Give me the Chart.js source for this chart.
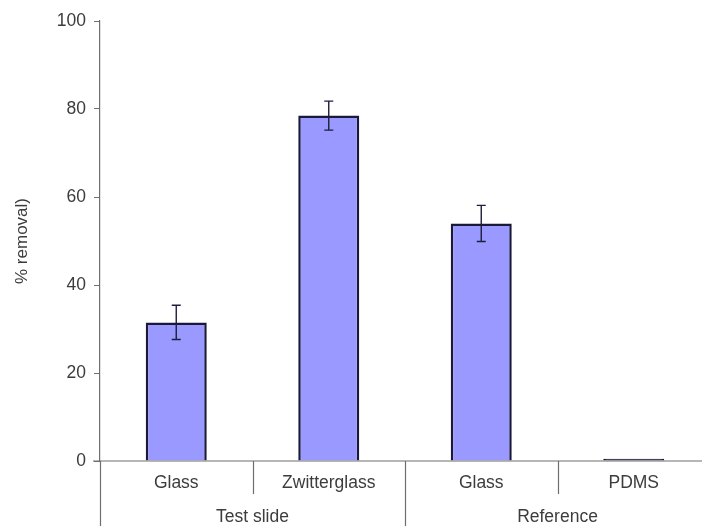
<!DOCTYPE html>
<html>
<head>
<meta charset="utf-8">
<title>% removal</title>
<script src="https://cdn.jsdelivr.net/npm/chart.js@4/dist/chart.umd.min.js"></script>
<style>
  html, body { margin: 0; padding: 0; background: #fff; overflow: hidden; }
  #wrap { width: 710px; height: 526px; }
</style>
</head>
<body>
<div id="wrap"><canvas id="myChart"></canvas></div>

<script>
// data
const categories = ['Glass', 'Zwitterglass', 'Glass', 'PDMS'];
const removal = [31.5, 78.5, 54.0, 0.5];
const removalErr = [3.9, 3.3, 4.1, 0];
// groups: label and how many categories each one spans
const groupLabels = ['Test slide', 'Reference'];
const groupSizes = [2, 2];
const yTicks = [0, 20, 40, 60, 80, 100];

const AXIS_COLOR = '#6e6e6e';
const TEXT_COLOR = '#3c3c3c';
const BAR_FILL = '#9999ff';
const BAR_EDGE = '#1a1a38';
const FONT = '"Liberation Sans", Arial, sans-serif';

// error bars on top of each bar
const errorBarPlugin = {
  id: 'errorBars',
  afterDatasetsDraw(chart) {
    const ctx = chart.ctx;
    const y = chart.scales.y;
    const meta = chart.getDatasetMeta(0);
    ctx.save();
    ctx.strokeStyle = '#1e1e3c';
    ctx.lineWidth = 1.4;
    meta.data.forEach((bar, i) => {
      const e = removalErr[i];
      if (!e) return;
      const hi = y.getPixelForValue(removal[i] + e);
      const lo = y.getPixelForValue(removal[i] - e);
      const x = bar.x;
      ctx.beginPath();
      ctx.moveTo(x, hi); ctx.lineTo(x, lo);
      ctx.moveTo(x - 4.5, hi); ctx.lineTo(x + 4.5, hi);
      ctx.moveTo(x - 4.5, lo); ctx.lineTo(x + 4.5, lo);
      ctx.stroke();
    });
    ctx.restore();
  }
};

// x axis line, category separators and group labels
const groupAxisPlugin = {
  id: 'groupAxis',
  afterDraw(chart) {
    const ctx = chart.ctx;
    const xs = chart.scales.x;
    const area = chart.chartArea;
    const base = area.bottom;
    const step = xs.getPixelForTick(1) - xs.getPixelForTick(0);
    const edge = i => xs.getPixelForTick(0) - step / 2 + i * step;

    ctx.save();
    ctx.strokeStyle = AXIS_COLOR;
    ctx.lineWidth = 1.2;
    ctx.beginPath();
    ctx.moveTo(area.left - 7, base);
    ctx.lineTo(chart.width, base);

    // short separators inside a group, long ones between groups
    let idx = 0;
    const groupEdges = [0];
    groupSizes.forEach(n => { idx += n; groupEdges.push(idx); });
    for (let i = 0; i <= categories.length; i++) {
      const px = Math.round(edge(i)) + 0.5;
      const long = groupEdges.includes(i);
      ctx.moveTo(px, base);
      ctx.lineTo(px, long ? chart.height : base + 33);
    }
    ctx.stroke();

    ctx.fillStyle = TEXT_COLOR;
    ctx.font = '17.5px ' + FONT;
    ctx.textAlign = 'center';
    ctx.textBaseline = 'middle';
    let start = 0;
    groupLabels.forEach((label, g) => {
      const mid = (edge(start) + edge(start + groupSizes[g])) / 2;
      ctx.fillText(label, mid, base + 56);
      start += groupSizes[g];
    });
    ctx.restore();
  }
};

const config = {
  type: 'bar',
  data: {
    labels: categories,
    datasets: [{
      data: removal,
      // a near-zero bar is all outline, so fill it with the edge colour
      backgroundColor: c => (removal[c.dataIndex] < 1 ? BAR_EDGE : BAR_FILL),
      borderColor: BAR_EDGE,
      borderWidth: 2.5,
      borderSkipped: 'bottom',
      barPercentage: 0.4,
      categoryPercentage: 1.0
    }]
  },
  options: {
    responsive: true,
    maintainAspectRatio: false,
    animation: false,
    layout: { padding: { top: 21, right: 0, left: 0, bottom: 0 } },
    plugins: {
      legend: { display: false },
      tooltip: { enabled: false }
    },
    scales: {
      x: {
        offset: true,
        border: { display: false },
        grid: { display: false, drawTicks: false },
        ticks: {
          color: TEXT_COLOR,
          font: { family: FONT, size: 17.5 },
          padding: 12
        },
        afterFit(s) { s.height = 65; }
      },
      y: {
        min: 0,
        max: 100,
        afterBuildTicks(s) { s.ticks = yTicks.map(v => ({ value: v })); },
        border: { display: true, color: AXIS_COLOR, width: 1.2 },
        grid: {
          drawOnChartArea: false,
          drawTicks: true,
          tickLength: 6,
          color: AXIS_COLOR
        },
        ticks: {
          color: TEXT_COLOR,
          font: { family: FONT, size: 17.5 },
          padding: 8
        },
        title: {
          display: true,
          text: '% removal)',
          color: TEXT_COLOR,
          font: { family: FONT, size: 17 },
          padding: { top: 12, bottom: 0 }
        },
        afterFit(s) { s.width = 100; }
      }
    }
  },
  plugins: [errorBarPlugin, groupAxisPlugin]
};

const myChart = new Chart(document.getElementById('myChart'), config);
</script>
</body>
</html>
